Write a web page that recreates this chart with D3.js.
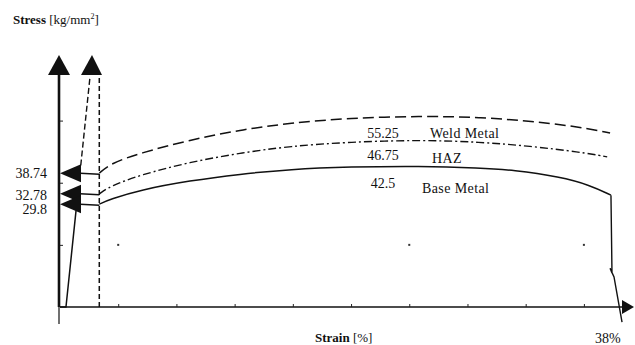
<!DOCTYPE html>
<html><head><meta charset="utf-8">
<script src="https://cdn.jsdelivr.net/npm/d3@7/dist/d3.min.js"></script>
<style>
html,body{margin:0;padding:0;background:#fff;}
svg{display:block;}
text{font-family:"Liberation Serif","Times New Roman",serif;fill:#111;}
</style></head>
<body>
<script>
// ---- data (strain %, stress kg/mm2) ----
const seriesNames = ["Weld Metal", "HAZ", "Base Metal"];
const yieldLabels = ["38.74", "32.78", "29.8"];
const yieldValues = [38.74, 32.78, 29.8];
const peakLabels = ["55.25", "46.75", "42.5"];
const strainTicks = [4, 8, 12, 16, 20, 24, 28, 32, 36];
const stressTicks = [18, 36, 54];
const weldStrain = [2.7, 3.44, 5.5, 8.93, 12.37, 15.8, 19.93, 24.74, 28.86, 32.98, 35.73, 37.8];
const weldStress = [38.74, 41.5, 44.6, 48.4, 51.3, 53.3, 54.75, 55.3, 55.0, 53.6, 52.1, 50.4];
const hazStrain = [2.7, 3.44, 5.5, 8.93, 12.37, 15.8, 19.93, 24.74, 28.86, 32.3, 35.73, 37.6];
const hazStress = [32.78, 35.0, 38.24, 42.0, 44.6, 46.6, 47.8, 48.4, 47.8, 46.6, 44.9, 43.5];
const baseStrain = [2.7, 3.44, 5.5, 8.93, 12.37, 15.8, 19.93, 24.74, 28.86, 31.13, 34.36, 36.42, 37.86];
const baseStress = [29.8, 31.2, 33.9, 36.6, 38.5, 39.9, 40.6, 40.85, 40.3, 39.7, 37.7, 35.3, 32.4];
const fractureStrain = [37.86, 37.93, 37.8, 38.07, 38.62];
const fractureStress = [32.4, 9.85, 11.2, 8.69, -4.35];
const elasticStrain = [0, 0.41, 2.06];
const elasticStress = [0, 0, 66.6];
const elasticSolidTop = 28;     // stress where the solid elastic line disappears behind arrows
const elasticDashedFrom = 41;   // stress where dashed continuation starts
const yieldStrainEnd = 2.7;     // strain of the vertical dashed line
const gridDotStrain = [4, 24, 36];
const gridDotStress = 18;
const strainMax = 38, stressMax = 73;

const W = 635, H = 345;
const svg = d3.select("body").append("svg").attr("width", W).attr("height", H);

const x = d3.scaleLinear().domain([0, strainMax]).range([60, 613]);
const y = d3.scaleLinear().domain([0, stressMax]).range([307, 55]);

const zip = (a, b) => a.map((v, i) => [v, b[i]]);
const line = d3.line().x(d => x(d[0])).y(d => y(d[1]));
const smooth = d3.line().x(d => x(d[0])).y(d => y(d[1])).curve(d3.curveBasis);

// x axis
const xAxisY = y(0);
svg.append("line").attr("x1", x(0)).attr("x2", 623).attr("y1", xAxisY).attr("y2", xAxisY)
  .attr("stroke", "#111").attr("stroke-width", 1.6);
svg.append("path").attr("d", `M634,${xAxisY}L622,${xAxisY - 7}L622,${xAxisY + 7}Z`).attr("fill", "#111");
svg.append("g").attr("transform", `translate(0,${xAxisY})`)
  .call(d3.axisBottom(x).tickValues(strainTicks).tickSize(-3).tickFormat(""))
  .call(g => { g.select(".domain").remove(); g.selectAll("line").attr("stroke", "#222").attr("stroke-width", 1); });

// y axis
svg.append("line").attr("x1", x(0) - 1).attr("x2", x(0) - 1).attr("y1", y(0) + 17).attr("y2", 74)
  .attr("stroke", "#111").attr("stroke-width", 1.2);
svg.append("line").attr("x1", x(0) - 1).attr("x2", x(0) - 1).attr("y1", y(0)).attr("y2", 74)
  .attr("stroke", "#111").attr("stroke-width", 2.6);
svg.append("path").attr("d", `M${x(0) - 1},55L${x(0) - 12},75L${x(0) + 10},75Z`).attr("fill", "#111");
svg.append("g").attr("transform", `translate(${x(0)},0)`)
  .call(d3.axisLeft(y).tickValues(stressTicks).tickSize(-3).tickFormat(""))
  .call(g => { g.select(".domain").remove(); g.selectAll("line").attr("stroke", "#222").attr("stroke-width", 1); });

// grid dots
svg.selectAll("rect.dot").data(gridDotStrain).enter().append("rect")
  .attr("x", d => x(d) - 1).attr("y", y(gridDotStress) - 1).attr("width", 2).attr("height", 2).attr("fill", "#333");

// elastic line: solid lower part, dashed upper part
const e0 = elasticStrain, s0 = elasticStress;
const strainAt = s => e0[1] + (e0[2] - e0[1]) * (s - s0[1]) / (s0[2] - s0[1]);
svg.append("path").attr("d", line([[e0[0], s0[0]], [e0[1], s0[1]], [strainAt(elasticSolidTop), elasticSolidTop]]))
  .attr("fill", "none").attr("stroke", "#111").attr("stroke-width", 1.5);
svg.append("path").attr("d", line([[strainAt(elasticDashedFrom), elasticDashedFrom], [e0[2], s0[2]]]))
  .attr("fill", "none").attr("stroke", "#111").attr("stroke-width", 1.4).attr("stroke-dasharray", "6,3");

// vertical dashed line at yield strain end
svg.append("line").attr("x1", x(yieldStrainEnd)).attr("x2", x(yieldStrainEnd)).attr("y1", y(0)).attr("y2", 72)
  .attr("stroke", "#111").attr("stroke-width", 1.5).attr("stroke-dasharray", "5,3");
// second arrowhead
svg.append("path").attr("d", `M92,55L81,75L102,75Z`).attr("fill", "#111");

// yield arrows and connectors
const yieldBaselines = [178, 200, 214];
yieldValues.forEach((v, i) => {
  const yy = y(v);
  svg.append("line").attr("x1", 80).attr("x2", x(yieldStrainEnd)).attr("y1", yy).attr("y2", yy + 1)
    .attr("stroke", "#111").attr("stroke-width", 1.5);
  svg.append("path").attr("d", `M${x(0)},${yy}L81,${yy - 9}L81,${yy + 9}Z`).attr("fill", "#111");
  svg.append("text").attr("x", 47).attr("y", yieldBaselines[i]).attr("text-anchor", "end")
    .attr("font-size", 14).text(yieldLabels[i]);
});

// curves
svg.append("path").attr("d", smooth(zip(weldStrain, weldStress)))
  .attr("fill", "none").attr("stroke", "#111").attr("stroke-width", 1.5).attr("stroke-dasharray", "11,5");
svg.append("path").attr("d", smooth(zip(hazStrain, hazStress)))
  .attr("fill", "none").attr("stroke", "#111").attr("stroke-width", 1.4).attr("stroke-dasharray", "8,3,2,3");
svg.append("path").attr("d", smooth(zip(baseStrain, baseStress)))
  .attr("fill", "none").attr("stroke", "#111").attr("stroke-width", 1.5);
svg.append("path").attr("d", line(zip(fractureStrain, fractureStress)))
  .attr("fill", "none").attr("stroke", "#111").attr("stroke-width", 1.4);

// curve labels
const numBaselines = [138, 160, 188];
const nameBaselines = [138, 163, 193];
const nameStarts = [430, 432, 422];
peakLabels.forEach((t, i) => {
  svg.append("text").attr("x", 383).attr("y", numBaselines[i]).attr("text-anchor", "middle")
    .attr("font-size", 14).text(t);
  svg.append("text").attr("x", nameStarts[i]).attr("y", nameBaselines[i])
    .attr("font-size", 14).attr("letter-spacing", 0.4).text(seriesNames[i]);
});

// axis titles
const yt = svg.append("text").attr("x", 13).attr("y", 24).attr("font-size", 13);
yt.append("tspan").attr("font-weight", "bold").text("Stress");
yt.append("tspan").text(" [kg/mm");
yt.append("tspan").attr("font-size", 8).attr("dy", -5).text("2");
yt.append("tspan").attr("dy", 5).text("]");

const xt = svg.append("text").attr("x", 315).attr("y", 342).attr("font-size", 13);
xt.append("tspan").attr("font-weight", "bold").text("Strain");
xt.append("tspan").text(" [%]");

svg.append("text").attr("x", 595).attr("y", 343).attr("font-size", 14).text("38%");
</script>
</body></html>
